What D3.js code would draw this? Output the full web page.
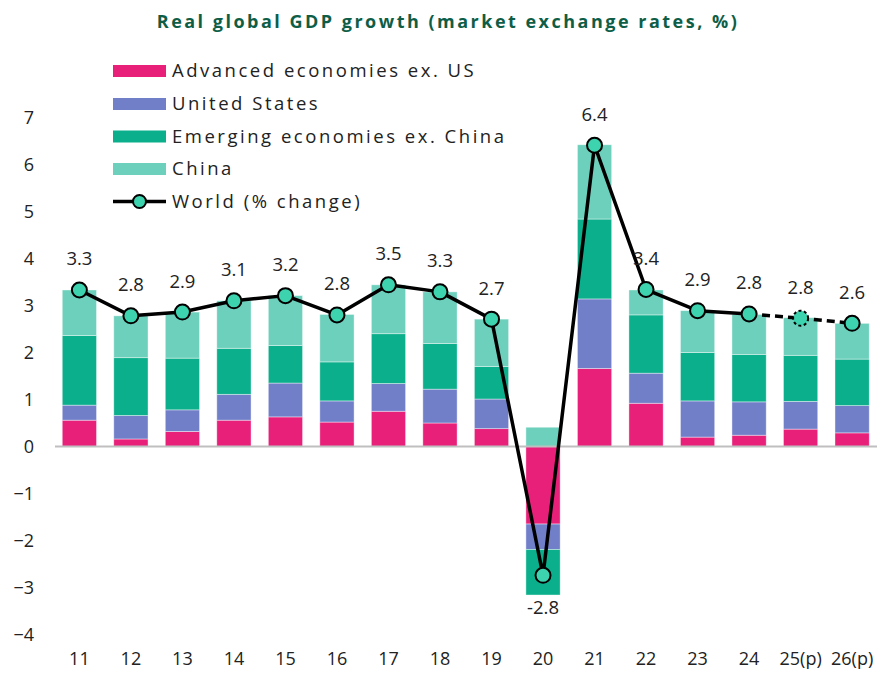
<!DOCTYPE html>
<html><head><meta charset="utf-8">
<script src="https://cdn.jsdelivr.net/npm/d3@7"></script>
<style>body{margin:0;background:#fff}svg{display:block}text{font-family:"Open Sans",sans-serif}</style>
</head><body><svg id="c" width="883" height="673"></svg>
<script>
const categories = ["11","12","13","14","15","16","17","18","19","20","21","22","23","24","25(p)","26(p)"];
const advancedExUS = [0.56,0.16,0.32,0.56,0.63,0.52,0.75,0.50,0.38,-1.65,1.66,0.92,0.20,0.24,0.37,0.29];
const unitedStates = [0.32,0.50,0.46,0.55,0.72,0.45,0.59,0.72,0.63,-0.54,1.48,0.64,0.77,0.71,0.59,0.58];
const emergingExChina = [1.48,1.23,1.10,0.98,0.80,0.83,1.06,0.97,0.69,-0.97,1.70,1.24,1.03,1.01,0.98,0.99];
const china = [0.97,0.89,0.98,1.01,1.06,1.01,1.04,1.10,1.01,0.41,1.58,0.53,0.89,0.85,0.80,0.76];
const world = [3.33,2.78,2.86,3.10,3.21,2.80,3.44,3.29,2.71,-2.74,6.41,3.34,2.89,2.82,2.73,2.62];
const worldLabels = ["3.3","2.8","2.9","3.1","3.2","2.8","3.5","3.3","2.7","-2.8","6.4","3.4","2.9","2.8","2.8","2.6"];
const yTicks = [-4,-3,-2,-1,0,1,2,3,4,5,6,7];
const seriesNames = ["Advanced economies ex. US","United States","Emerging economies ex. China","China"];
const worldName = "World (% change)";
const title = "Real global GDP growth (market exchange rates, %)";
const projectedFrom = 13; // index where dashed projection begins

const colors = ["#E8207A","#717FC9","#0BAF8B","#6DD0BC"];
const seriesArrays = [advancedExUS, unitedStates, emergingExChina, china];

const svg = d3.select("#c");
const x = d3.scaleBand().domain(categories).range([53.5, 878]).paddingInner(0.335).paddingOuter(0.17);
const y = d3.scaleLinear().domain([-4,7]).range([634.5, 117.5]);

const rows = categories.map((c,i)=>{const o={cat:c}; seriesNames.forEach((s,k)=>o[s]=seriesArrays[k][i]); return o;});
const stacked = d3.stack().keys(seriesNames).offset(d3.stackOffsetDiverging)(rows);

function fitSpacing(node, target){
  const w = node.getComputedTextLength();
  const n = node.textContent.length;
  return (target - w) / Math.max(1, n - 1);
}
const wideFont = "'DejaVu Sans',sans-serif";

// title
const tt = svg.append("text").attr("x",448).attr("y",22).attr("dy","0.35em").attr("text-anchor","middle")
  .attr("font-family",wideFont).attr("font-weight",700).attr("font-size",18).attr("fill","#0E5E47").text(title);
tt.attr("letter-spacing", fitSpacing(tt.node(), 580));

// bars
svg.append("g").selectAll("g").data(stacked).join("g").attr("fill",(d,i)=>colors[i])
  .selectAll("rect").data(d=>d).join("rect")
  .attr("x",d=>x(d.data.cat)).attr("width",x.bandwidth())
  .attr("y",d=>y(Math.max(d[0],d[1]))).attr("height",d=>Math.abs(y(d[0])-y(d[1])))
  .attr("stroke","#ffffff").attr("stroke-opacity",0.5).attr("stroke-width",0.8);

// zero axis line
svg.append("line").attr("x1",55).attr("x2",877).attr("y1",y(0)).attr("y2",y(0))
  .attr("stroke","#BFBFBF").attr("stroke-width",2);

// y axis labels
const yAxis = d3.axisLeft(y).tickValues(yTicks).tickSize(0).tickPadding(0).tickFormat(d3.format("d"));
const yg = svg.append("g").attr("transform","translate(34,0)").call(yAxis);
yg.select(".domain").remove();
yg.selectAll("text").attr("font-size",18).attr("fill","#222").attr("font-family","'Open Sans',sans-serif");

// x axis labels
const xAxis = d3.axisBottom(x).tickSize(0).tickPadding(0);
const xg = svg.append("g").attr("transform","translate(0,652)").call(xAxis);
xg.select(".domain").remove();
xg.selectAll("text").attr("font-size",18).attr("fill","#222").attr("font-family","'Open Sans',sans-serif");

// world line
const cx = i=>x(categories[i])+x.bandwidth()/2;
const line = d3.line().x(d=>cx(d.i)).y(d=>y(d.v));
const pts = world.map((v,i)=>({v,i}));
svg.append("path").datum(pts.slice(0,projectedFrom+1)).attr("d",line)
  .attr("fill","none").attr("stroke","#000").attr("stroke-width",3.5).attr("stroke-linejoin","round");
svg.append("path").datum(pts.slice(projectedFrom)).attr("d",line)
  .attr("fill","none").attr("stroke","#000").attr("stroke-width",3.5).attr("stroke-dasharray","8,5");
svg.append("g").selectAll("circle").data(pts).join("circle")
  .attr("cx",d=>cx(d.i)).attr("cy",d=>y(d.v)).attr("r",7.5)
  .attr("fill","#3DD3AF").attr("stroke","#000").attr("stroke-width",2)
  .attr("stroke-dasharray",d=>d.i===projectedFrom+1?"3,2.5":null);

// world labels
svg.append("g").selectAll("text").data(pts).join("text")
  .attr("x",d=>cx(d.i)).attr("y",d=>y(d.v)+(d.v<0?32:-31)).attr("dy","0.35em")
  .attr("text-anchor","middle").attr("font-size",18.5).attr("fill","#222")
  .text(d=>worldLabels[d.i]);

// legend
const lg = svg.append("g");
const ly = [71,104,136.5,169,201.5];
const legendTexts = [];
seriesNames.forEach((s,k)=>{
  lg.append("rect").attr("x",113).attr("y",ly[k]-6).attr("width",53).attr("height",12).attr("fill",colors[k]);
  legendTexts.push(lg.append("text").attr("x",172).attr("y",ly[k]).attr("dy","0.35em").attr("font-family",wideFont).attr("font-size",18.5).attr("fill","#222").text(s));
});
lg.append("line").attr("x1",113).attr("x2",166).attr("y1",ly[4]).attr("y2",ly[4]).attr("stroke","#000").attr("stroke-width",3.5);
lg.append("circle").attr("cx",139.5).attr("cy",ly[4]).attr("r",6.5).attr("fill","#3DD3AF").attr("stroke","#000").attr("stroke-width",2);
legendTexts.push(lg.append("text").attr("x",172).attr("y",ly[4]).attr("dy","0.35em").attr("font-family",wideFont).attr("font-size",18.5).attr("fill","#222").text(worldName));
const ls = fitSpacing(legendTexts[2].node(), 332);
legendTexts.forEach(t=>t.attr("letter-spacing", ls));
</script></body></html>
